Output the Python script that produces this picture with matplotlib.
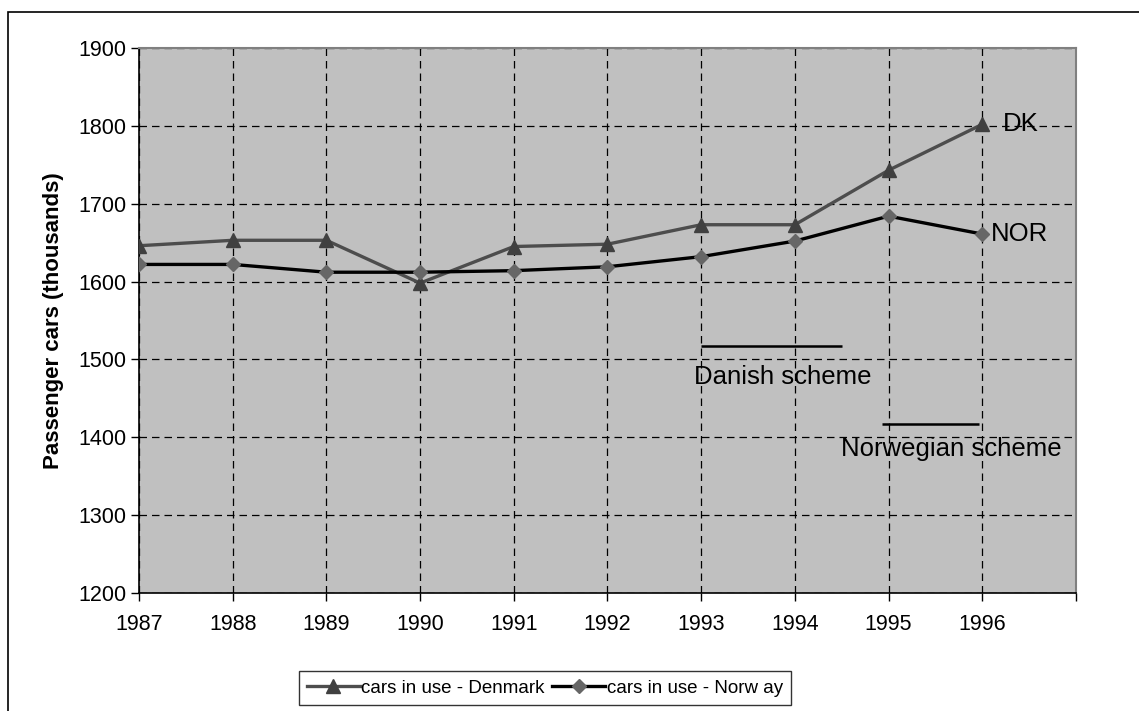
import matplotlib
matplotlib.use("Agg")
import matplotlib.pyplot as plt
from matplotlib.patches import Rectangle

plt.rcParams['font.family'] = ['Liberation Sans', 'DejaVu Sans']

years = [1987, 1988, 1989, 1990, 1991, 1992, 1993, 1994, 1995, 1996]
denmark = [1646, 1653, 1653, 1598, 1645, 1648, 1673, 1673, 1743, 1802]
norway = [1622, 1622, 1612, 1612, 1614, 1619, 1632, 1652, 1684, 1661]
x_ticks = list(range(1987, 1998))
x_tick_labels = [str(y) for y in range(1987, 1997)] + [""]
y_ticks = [1200, 1300, 1400, 1500, 1600, 1700, 1800, 1900]
label_dk = "cars in use - Denmark"
label_nor = "cars in use - Norw ay"
danish_scheme = (1993.0, 1994.5, 1517)
norwegian_scheme = (1994.93, 1995.96, 1417)

fig = plt.figure(figsize=(11.39, 7.11), dpi=100)
ax = fig.add_axes([0.122, 0.166, 0.8227, 0.7665])
ax.set_facecolor('#c0c0c0')

ax.plot(years, denmark, color='#4d4d4d', lw=2.4, marker='^', ms=10,
        mfc='#404040', mec='#404040', label=label_dk, zorder=4)
ax.plot(years, norway, color='#000000', lw=2.4, marker='D', ms=7.5,
        mfc='#666666', mec='#666666', label=label_nor, zorder=4)

ax.set_xlim(1987, 1997)
ax.set_ylim(1200, 1900)
ax.set_xticks(x_ticks)
ax.set_xticklabels(x_tick_labels)
ax.set_yticks(y_ticks)
ax.tick_params(axis='both', labelsize=15.5, direction='out', length=6, width=1, color='black')
ax.tick_params(axis='x', pad=9)
ax.tick_params(axis='y', pad=3)
ax.grid(True, color='black', linestyle=(0, (6, 4)), lw=0.9)
ax.set_axisbelow(True)
for s in ['left', 'bottom']:
    ax.spines[s].set_color('black')
    ax.spines[s].set_linewidth(1.2)
for s in ['top', 'right']:
    ax.spines[s].set_color('#808080')
    ax.spines[s].set_linewidth(1.5)

ax.set_ylabel('Passenger cars (thousands)', fontsize=16, fontweight='bold', labelpad=10)

# annotations
ax.hlines(danish_scheme[2], danish_scheme[0], danish_scheme[1], color='black', lw=1.8, zorder=3)
ax.text(1992.92, 1478, 'Danish scheme', fontsize=18.5, va='center', ha='left')
ax.hlines(norwegian_scheme[2], norwegian_scheme[0], norwegian_scheme[1], color='black', lw=1.8, zorder=3)
ax.text(1994.49, 1385, 'Norwegian scheme', fontsize=18.5, va='center', ha='left')
ax.text(1996.22, 1802, 'DK', fontsize=18.5, va='center', ha='left')
ax.text(1996.09, 1661, 'NOR', fontsize=18.5, va='center', ha='left')

leg = fig.legend(loc='center', bbox_to_anchor=(0.4785, 0.032), ncol=2, fontsize=13.5,
                 frameon=True, fancybox=False, edgecolor='black', handlelength=2.8,
                 handletextpad=0.1, columnspacing=0.4, borderpad=0.45, borderaxespad=0)
leg.get_frame().set_linewidth(1.0)

# outer frame
fig.patches.append(Rectangle((8 / 1139, -0.1), 1.2, 1 - 12 / 711 + 0.1, transform=fig.transFigure,
                             fill=False, edgecolor='black', lw=1.2))

fig.savefig('out.png', dpi=100)
